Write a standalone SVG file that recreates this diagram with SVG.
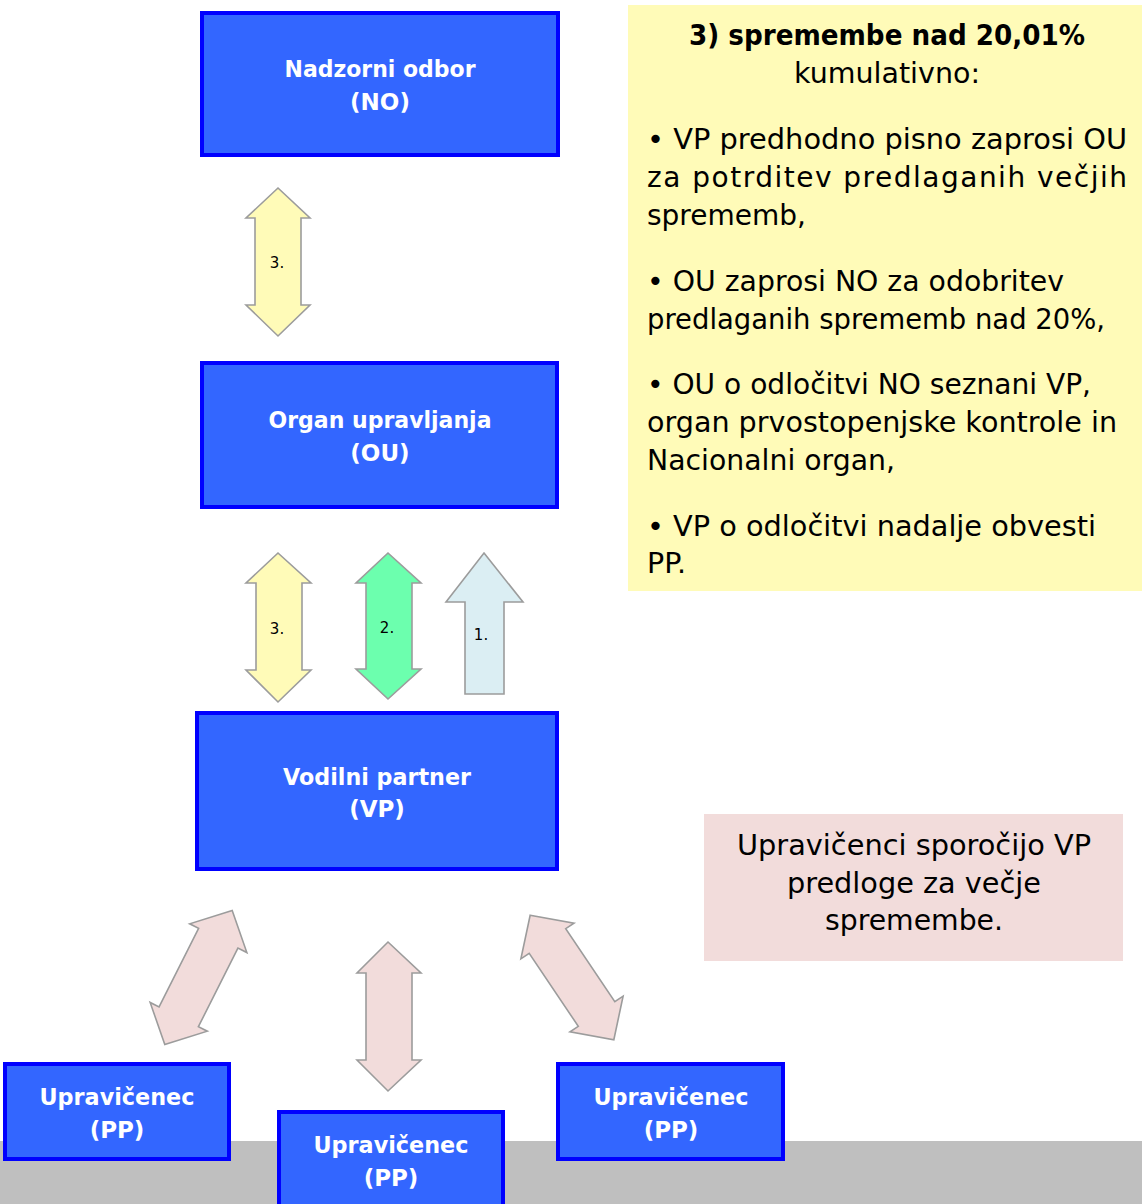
<svg xmlns="http://www.w3.org/2000/svg" width="1142" height="1204" viewBox="0 0 1142 1204">
<style>
.box{fill:#3366FF;stroke:#0000FF;stroke-width:4}
.bl{font-family:"DejaVu Sans","Liberation Sans",sans-serif;font-weight:bold;font-size:23px;fill:#FFFFFF;text-anchor:middle}
.arr{stroke:#9C9C9C;stroke-width:1.6;stroke-linejoin:miter}
.yel{fill:#FFFBB8}
.grn{fill:#6CFFAE}
.blu{fill:#DBEEF3}
.pnk{fill:#F2DCDB}
.al{font-family:"DejaVu Sans","Liberation Sans",sans-serif;font-size:15px;fill:#000;text-anchor:middle}
.t{font-family:"DejaVu Sans","Liberation Sans",sans-serif;font-size:28px;fill:#000}
.tc{text-anchor:middle}
</style>
<defs>
<path id="dbl" d="M0,-75 L32,-44 L22,-44 L22,44 L32,44 L0,75 L-32,44 L-22,44 L-22,-44 L-32,-44 Z"/>
</defs>
<rect x="0" y="1141" width="1142" height="63" fill="#BFBFBF"/>

<g id="note-yellow">
<rect x="628" y="5" width="514" height="586" fill="#FFFBB8"/>
<text class="t tc" x="887" y="45" font-weight="bold" textLength="396" lengthAdjust="spacingAndGlyphs">3) spremembe nad 20,01%</text>
<text class="t tc" x="887" y="83" textLength="186" lengthAdjust="spacingAndGlyphs">kumulativno:</text>
<text class="t" x="647" y="149" textLength="480" lengthAdjust="spacingAndGlyphs">• VP predhodno pisno zaprosi OU</text>
<text class="t" x="647" y="187" textLength="480" lengthAdjust="spacing">za potrditev predlaganih večjih</text>
<text class="t" x="647" y="225" textLength="159" lengthAdjust="spacingAndGlyphs">sprememb,</text>
<text class="t" x="647" y="291" textLength="417" lengthAdjust="spacingAndGlyphs">• OU zaprosi NO za odobritev</text>
<text class="t" x="647" y="329" textLength="458" lengthAdjust="spacingAndGlyphs">predlaganih sprememb nad 20%,</text>
<text class="t" x="647" y="394" textLength="444" lengthAdjust="spacingAndGlyphs">• OU o odločitvi NO seznani VP,</text>
<text class="t" x="647" y="432" textLength="470" lengthAdjust="spacingAndGlyphs">organ prvostopenjske kontrole in</text>
<text class="t" x="647" y="470" textLength="248" lengthAdjust="spacingAndGlyphs">Nacionalni organ,</text>
<text class="t" x="647" y="536" textLength="449" lengthAdjust="spacingAndGlyphs">• VP o odločitvi nadalje obvesti</text>
<text class="t" x="647" y="573" textLength="39" lengthAdjust="spacingAndGlyphs">PP.</text>
</g>

<g id="note-pink">
<rect x="704" y="814" width="419" height="147" fill="#F2DCDB"/>
<text class="t tc" x="914" y="855" textLength="354" lengthAdjust="spacingAndGlyphs">Upravičenci sporočijo VP</text>
<text class="t tc" x="914" y="893" textLength="254" lengthAdjust="spacingAndGlyphs">predloge za večje</text>
<text class="t tc" x="914" y="930" textLength="178" lengthAdjust="spacingAndGlyphs">spremembe.</text>
</g>

<g id="connectors">
<g id="arrow-no-ou">
<path class="arr yel" d="M278,188 L310,218 L301,218 L301,305 L310,305 L278,336 L246,305 L255,305 L255,218 L246,218 Z"/>
<text class="al" x="277" y="268">3.</text>
</g>
<g id="arrow-ou-vp-3">
<path class="arr yel" d="M278,553 L311,583 L302,583 L302,670 L311,670 L278,702 L246,670 L256,670 L256,583 L246,583 Z"/>
<text class="al" x="277" y="634">3.</text>
</g>
<g id="arrow-ou-vp-2">
<path class="arr grn" d="M388,553 L421,583 L412,583 L412,669 L421,669 L388,699 L356,669 L366,669 L366,583 L356,583 Z"/>
<text class="al" x="387" y="633">2.</text>
</g>
<g id="arrow-vp-ou-1">
<path class="arr blu" d="M484,553 L523,602 L504,602 L504,694 L465,694 L465,602 L446,602 Z"/>
<text class="al" x="481" y="640">1.</text>
</g>
<use class="arr pnk" href="#dbl" transform="translate(198.5,977.5) rotate(26.7)"/>
<path class="arr pnk" d="M388,942 L421,973 L412,973 L412,1060 L421,1060 L388,1091 L357,1060 L366,1060 L366,973 L357,973 Z"/>
<use class="arr pnk" href="#dbl" transform="translate(572,977.5) rotate(-33.9)"/>
</g>

<g id="node-no">
<rect class="box" x="202" y="13" width="356" height="142"/>
<text class="bl" x="380" y="77" textLength="191" lengthAdjust="spacingAndGlyphs">Nadzorni odbor</text>
<text class="bl" x="380" y="110">(NO)</text>
</g>
<g id="node-ou">
<rect class="box" x="202" y="363" width="355" height="144"/>
<text class="bl" x="380" y="428" textLength="223" lengthAdjust="spacingAndGlyphs">Organ upravljanja</text>
<text class="bl" x="380" y="461">(OU)</text>
</g>
<g id="node-vp">
<rect class="box" x="197" y="713" width="360" height="156"/>
<text class="bl" x="377" y="785" textLength="188" lengthAdjust="spacingAndGlyphs">Vodilni partner</text>
<text class="bl" x="377" y="817">(VP)</text>
</g>
<g id="node-pp-left">
<rect class="box" x="5" y="1064" width="224" height="95"/>
<text class="bl" x="117" y="1105" textLength="155" lengthAdjust="spacingAndGlyphs">Upravičenec</text>
<text class="bl" x="117" y="1138">(PP)</text>
</g>
<g id="node-pp-middle">
<rect class="box" x="279" y="1112" width="224" height="96"/>
<text class="bl" x="391" y="1153" textLength="155" lengthAdjust="spacingAndGlyphs">Upravičenec</text>
<text class="bl" x="391" y="1186">(PP)</text>
</g>
<g id="node-pp-right">
<rect class="box" x="558" y="1064" width="225" height="95"/>
<text class="bl" x="671" y="1105" textLength="155" lengthAdjust="spacingAndGlyphs">Upravičenec</text>
<text class="bl" x="671" y="1138">(PP)</text>
</g>
</svg>
